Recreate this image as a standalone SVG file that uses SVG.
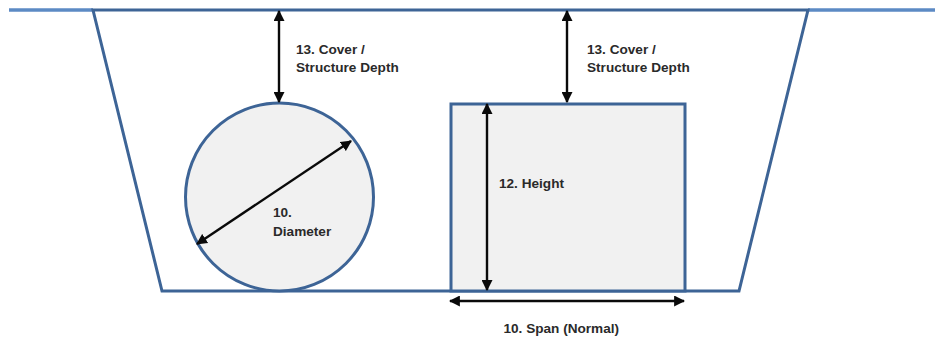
<svg xmlns="http://www.w3.org/2000/svg" width="935" height="341" viewBox="0 0 935 341">
<style>
.s{fill:none;stroke:#3d6496;stroke-width:3}
.f{fill:#f1f1f1;stroke:#3d6496;stroke-width:3}
.a{stroke:#0a0a0a;stroke-width:2.4;fill:none;marker-start:url(#h);marker-end:url(#h)}
text{font-family:"Liberation Sans",Arial,sans-serif;font-weight:700;font-size:13.6px;fill:#2a2a2a}
</style>
<defs><marker id="h" viewBox="0 0 10 10" refX="9" refY="5" markerUnits="userSpaceOnUse" markerWidth="11" markerHeight="11" orient="auto-start-reverse"><path d="M0 0L10 5L0 10Z" fill="#0a0a0a"/></marker></defs>
<rect width="935" height="341" fill="#fff"/>
<g id="ground">
<path d="M9 10H93" fill="none" stroke="#5c8ac4" stroke-width="3.4"/>
<path d="M808 10H935" fill="none" stroke="#5c8ac4" stroke-width="3.4"/>
</g>
<g id="channel"><path class="s" d="M93 10H808L739 291H162Z"/></g>
<g id="circle"><circle class="f" cx="279.5" cy="197" r="94"/></g>
<g id="box"><rect class="f" x="451" y="104" width="234" height="187"/></g>
<g id="connectors">
<line class="a" x1="279" y1="11" x2="279" y2="102"/>
<line class="a" x1="567" y1="11" x2="567" y2="102"/>
<line class="a" x1="487" y1="104" x2="487" y2="290"/>
<line class="a" x1="450" y1="301" x2="684" y2="301"/>
<line class="a" x1="197" y1="244" x2="351" y2="141"/>
</g>
<g id="labels">
<text x="296" y="54">13. Cover /</text>
<text x="296" y="72">Structure Depth</text>
<text x="587" y="54">13. Cover /</text>
<text x="587" y="72">Structure Depth</text>
<text x="273" y="217">10.</text>
<text x="273" y="236">Diameter</text>
<text x="499" y="188">12. Height</text>
<text x="503.5" y="332.5">10. Span (Normal)</text>
</g>
</svg>
